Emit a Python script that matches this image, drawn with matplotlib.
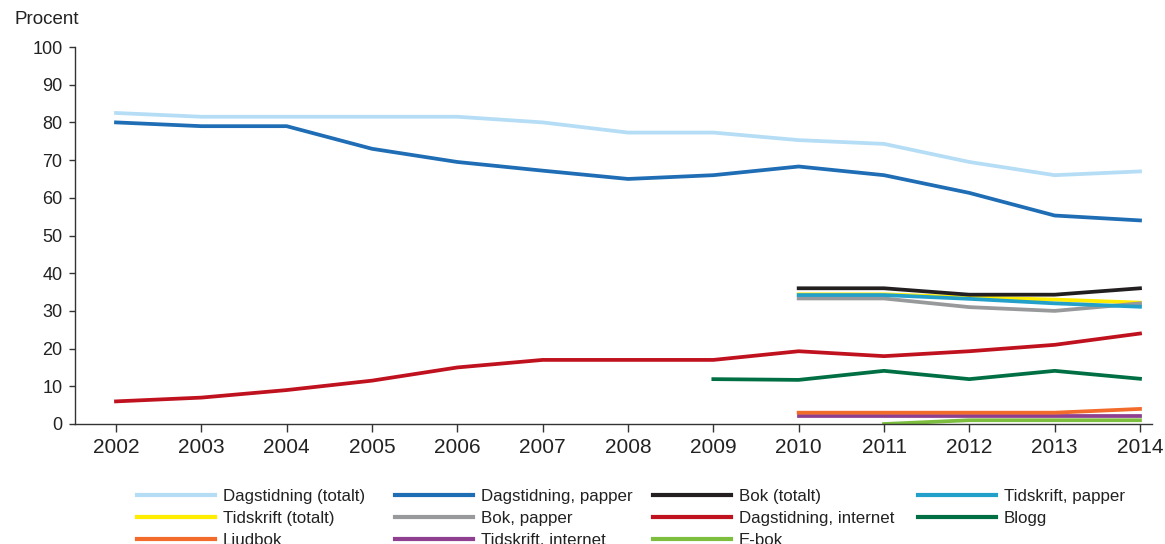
import matplotlib
matplotlib.use("Agg")
import matplotlib.pyplot as plt
import numpy as np

plt.rcParams['font.family'] = ['Liberation Sans', 'DejaVu Sans']

# Years covered by each group of series
years_all = [2002, 2003, 2004, 2005, 2006, 2007, 2008, 2009, 2010, 2011, 2012, 2013, 2014]
years_2009 = [2009, 2010, 2011, 2012, 2013, 2014]
years_2010 = [2010, 2011, 2012, 2013, 2014]
years_2011 = [2011, 2012, 2013, 2014]

# Share of population (percent)
dagstidning_totalt = [82.5, 81.5, 81.5, 81.5, 81.5, 80.0, 77.3, 77.3, 75.3, 74.3, 69.5, 66.0, 67.0]
dagstidning_papper = [80.0, 79.0, 79.0, 73.0, 69.5, 67.2, 65.0, 66.0, 68.3, 66.0, 61.3, 55.3, 54.0]
dagstidning_internet = [6.0, 7.0, 9.0, 11.5, 15.0, 17.0, 17.0, 17.0, 19.3, 18.0, 19.3, 21.0, 24.0]
bok_totalt = [36.0, 36.0, 34.3, 34.3, 36.0]
tidskrift_papper = [34.2, 34.2, 33.2, 32.0, 31.1]
tidskrift_totalt = [34.4, 34.4, 33.6, 33.0, 32.2]
bok_papper = [33.3, 33.3, 31.0, 30.0, 32.0]
blogg = [11.9, 11.7, 14.1, 11.9, 14.1, 12.0]
ljudbok = [3.0, 3.0, 3.0, 3.0, 4.0]
tidskrift_internet = [2.0, 2.0, 2.0, 2.0, 2.0]
e_bok = [0.0, 1.0, 1.0, 1.0]

fig = plt.figure(figsize=(11.65, 5.44), dpi=100)
ax = fig.add_axes([75 / 1165, 120 / 544, (1152 - 75) / 1165, (424 - 47) / 544])

lw = 2.7
lines = {}
lines['Dagstidning (totalt)'] = ax.plot(years_all, dagstidning_totalt, color='#b5ddf5', lw=lw)[0]
lines['Dagstidning, papper'] = ax.plot(years_all, dagstidning_papper, color='#1f6db5', lw=lw)[0]
lines['Dagstidning, internet'] = ax.plot(years_all, dagstidning_internet, color='#c0111f', lw=lw)[0]
lines['Blogg'] = ax.plot(years_2009, blogg, color='#007044', lw=lw)[0]
lines['Tidskrift (totalt)'] = ax.plot(years_2010, tidskrift_totalt, color='#ffed00', lw=lw)[0]
lines['Bok, papper'] = ax.plot(years_2010, bok_papper, color='#98999b', lw=lw)[0]
lines['Tidskrift, papper'] = ax.plot(years_2010, tidskrift_papper, color='#23a0c9', lw=lw)[0]
lines['Bok (totalt)'] = ax.plot(years_2010, bok_totalt, color='#231f20', lw=lw)[0]
lines['Tidskrift, internet'] = ax.plot(years_2010, tidskrift_internet, color='#8e3f8f', lw=lw)[0]
lines['Ljudbok'] = ax.plot(years_2010, ljudbok, color='#f26b2a', lw=lw)[0]
lines['E-bok'] = ax.plot(years_2011, e_bok, color='#7dbe3f', lw=lw)[0]

ax.set_xlim(2002 - 41 / 85.33, 2014 + 12 / 85.33)
ax.set_ylim(0, 100)
ax.set_xticks(years_all)
ax.set_yticks(np.arange(0, 101, 10))

for side in ('top', 'right'):
    ax.spines[side].set_visible(False)
for side in ('left', 'bottom'):
    ax.spines[side].set_color('#333333')
    ax.spines[side].set_linewidth(1.0)

ax.tick_params(axis='y', direction='out', length=4, width=1.0, color='#333333',
               labelsize=13, labelcolor='#222222', pad=5)
ax.tick_params(axis='x', direction='out', length=6, width=1.0, color='#333333',
               labelsize=15, labelcolor='#222222', pad=4)

fig.text(15 / 1165, 1 - 20 / 544, 'Procent', fontsize=13.5, color='#222222',
         ha='left', va='center')

# Legend laid out as four columns, read row by row
columns = [
    ['Dagstidning (totalt)', 'Tidskrift (totalt)', 'Ljudbok'],
    ['Dagstidning, papper', 'Bok, papper', 'Tidskrift, internet'],
    ['Bok (totalt)', 'Dagstidning, internet', 'E-bok'],
    ['Tidskrift, papper', 'Blogg'],
]
col_x = [137, 395, 653, 918]
for labels, x in zip(columns, col_x):
    handles = [plt.Line2D([], [], color=lines[l].get_color(), lw=3.0) for l in labels]
    leg = fig.legend(handles, labels, loc='upper left',
                     bbox_to_anchor=(x / 1165, 1 - 489 / 544),
                     frameon=False, fontsize=12.2, borderpad=0, borderaxespad=0,
                     handlelength=4.6, handletextpad=0.45, labelspacing=0.4)
    for t in leg.get_texts():
        t.set_color('#222222')

fig.savefig('out.png', dpi=100)
